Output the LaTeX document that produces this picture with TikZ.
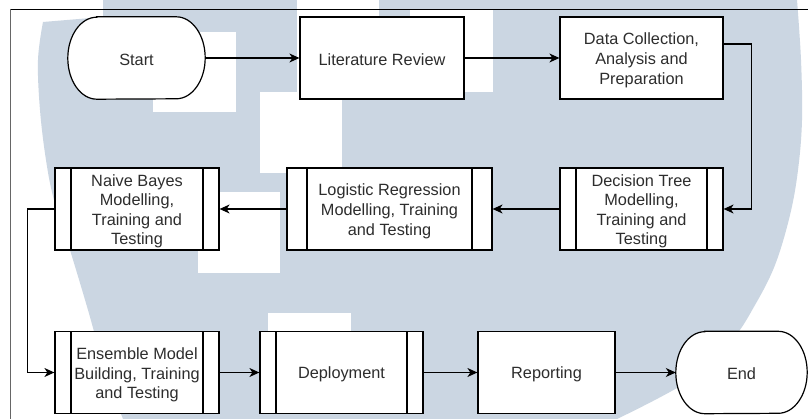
\documentclass[tikz,border=0pt]{standalone}
\usepackage{fontspec}
\setmainfont{Liberation Sans}
\usetikzlibrary{arrows.meta}

\definecolor{wmblue}{RGB}{203,214,226}
\definecolor{ink}{RGB}{45,45,45}

\pgfdeclarelayer{wm}
\pgfdeclarelayer{under}
\pgfsetlayers{wm,under,main}

% outline of a terminator node: straight top/bottom, elliptical ends
\newcommand\termoutline[1]{%
  \draw[line width=1.2pt, fill=white]
    ([xshift=29pt]#1.north west) -- ([xshift=-29pt]#1.north east)
    arc[start angle=90, end angle=-90, x radius=29pt, y radius=41pt]
    -- ([xshift=29pt]#1.south west)
    arc[start angle=270, end angle=90, x radius=29pt, y radius=41pt]
    -- cycle;}
% tall struts on the first line: lower the text block a little
\newcommand\topstrut{\rule{0pt}{16.5pt}}
\newcommand\onestrut{\rule{0pt}{14.5pt}}

\begin{document}
\begin{tikzpicture}[x=1pt, y=-1pt,
  lbl/.style={inner sep=0pt, align=center, text=ink,
    font=\fontsize{16.3}{19.6}\selectfont},
  box/.style={lbl, draw=black, line width=1.2pt, fill=white,
    minimum height=82pt},
  procbox/.style={box, path picture={
    \draw[line width=1.2pt]
      ([xshift=#1]path picture bounding box.north west) --
      ([xshift=#1]path picture bounding box.south west)
      ([xshift=-#1]path picture bounding box.north east) --
      ([xshift=-#1]path picture bounding box.south east);}},
  term/.style={lbl, minimum height=82pt},
  flow/.style={line width=1.2pt, -{Stealth[length=10pt, width=9pt, inset=3pt]}}
]
\useasboundingbox (0,0) rectangle (808,419);

% watermark
\begin{pgfonlayer}{wm}
  \fill[white] (0,0) rectangle (808,419);
  \fill[wmblue]
    plot[smooth, tension=0.6] coordinates {(797,0) (801,60) (802,120) (798,170)
      (790,215) (775,265) (755,305) (732,340) (690,380) (617,419)}
    -- plot[smooth, tension=0.6] coordinates {(123,419) (105,370) (88,310) (70,250)
      (54,200) (46,160) (40,110) (38,60) (43,22)}
    -- (103,17) -- (103,0) -- cycle;
  \fill[white] (153,32) rectangle (236,112);
  \fill[white] (260,92) rectangle (342,173);
  \fill[white] (297,0) rectangle (379,99);
  \fill[white] (410,10) rectangle (493,92);
  \fill[white] (198,192) rectangle (280,273);
  \fill[white] (268,313) rectangle (351,340);
  % page frame
  \draw[black, line width=0.9pt] (10,9) -- (808,9);
  \draw[black!60, line width=0.9pt] (10,9) -- (10,419);
\end{pgfonlayer}

% row 1
\node[term, minimum width=137pt] (start) at (136.5,58) {\onestrut Start};
\node[box, minimum width=164pt] (lit) at (382,58) {\onestrut Literature Review};
\node[box, minimum width=163pt] (data) at (641.5,58)
  {\topstrut Data Collection,\\Analysis and\\Preparation};

% row 2
\node[procbox=16pt, minimum width=163pt] (dt) at (641.5,209)
  {\topstrut Decision Tree\\Modelling,\\Training and\\Testing};
\node[procbox=20pt, minimum width=205pt] (lr) at (389.5,209)
  {\topstrut Logistic Regression\\Modelling, Training\\and Testing};
\node[procbox=16pt, minimum width=164pt] (nb) at (137,209)
  {\topstrut Naive Bayes\\Modelling,\\Training and\\Testing};

% row 3
\node[procbox=16pt, minimum width=164pt] (ens) at (137,372.5)
  {\topstrut Ensemble Model\\Building, Training\\and Testing};
\node[procbox=16pt, minimum width=163pt] (dep) at (341.5,372.5) {\onestrut Deployment};
\node[box, minimum width=137pt] (rep) at (546.5,372.5) {\onestrut Reporting};
\node[term, minimum width=131pt] (end) at (741.5,372.5) {\onestrut End};

\begin{pgfonlayer}{under}
  \termoutline{start}
  \termoutline{end}
\end{pgfonlayer}

% connectors
\draw[flow] (start) -- (lit);
\draw[flow] (lit) -- (data);
\draw[flow] ([yshift=14pt]data.east) -- ++(28,0) |- (dt.east);
\draw[flow] (dt) -- (lr);
\draw[flow] (lr) -- (nb);
\draw[flow] (nb.west) -- ++(-27,0) |- (ens.west);
\draw[flow] (ens) -- (dep);
\draw[flow] (dep) -- (rep);
\draw[flow] (rep) -- (end);
\end{tikzpicture}
\end{document}
